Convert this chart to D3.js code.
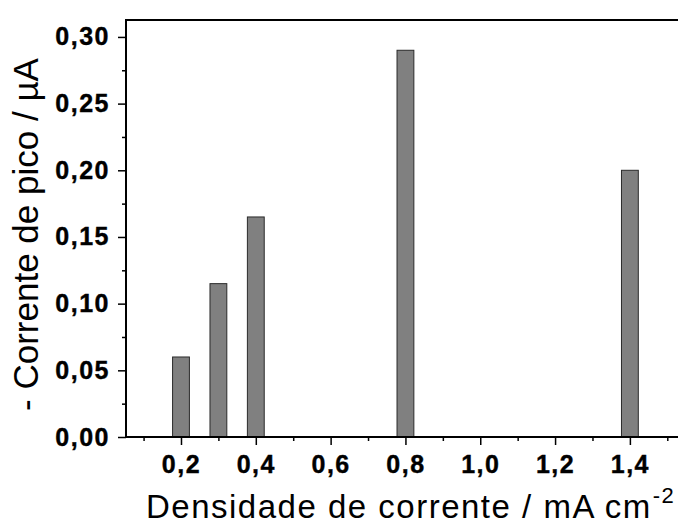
<!DOCTYPE html>
<html><head><meta charset="utf-8">
<script src="https://cdn.jsdelivr.net/npm/d3@7"></script>
<style>
html,body{margin:0;padding:0;background:#fff;}
svg{display:block;font-family:"Liberation Sans",Arial,sans-serif;}
</style></head>
<body>
<svg id="chart" width="678" height="524"></svg>
<script>
const categories = [0.2, 0.3, 0.4, 0.8, 1.4];
const peakCurrent = [0.06, 0.115, 0.165, 0.29, 0.20];
const xTicks = [0.2, 0.4, 0.6, 0.8, 1.0, 1.2, 1.4];
const xMinorTicks = [0.1, 0.3, 0.5, 0.7, 0.9, 1.1, 1.3, 1.5];
const yTicks = [0.00, 0.05, 0.10, 0.15, 0.20, 0.25, 0.30];
const yMinorTicks = [0.025, 0.075, 0.125, 0.175, 0.225, 0.275];
const xTitle = "Densidade de corrente / mA cm";
const yTitle = "- Corrente de pico / \u00B5A";

const svg = d3.select("#chart");
const mLeft = 126, mRight = 686, mTop = 20, mBottom = 437;
const x = d3.scaleLinear().domain([0.053, 1.55]).range([mLeft, mRight]);
const y = d3.scaleLinear().domain([0, 0.3127]).range([mBottom, mTop]);
const fmt = (d, p) => d.toFixed(p).replace(".", ",");
const barW = x(0.2 + 0.045) - x(0.2);

// bars
svg.append("g").selectAll("rect").data(categories).join("rect")
  .attr("x", (d) => x(d) - barW / 2)
  .attr("y", (d, i) => y(peakCurrent[i]))
  .attr("width", barW)
  .attr("height", (d, i) => y(0) - y(peakCurrent[i]))
  .attr("fill", "#808080").attr("stroke", "#2a2a2a").attr("stroke-width", 1);

// axes
const yAxis = svg.append("g").attr("transform", `translate(${mLeft},0)`)
  .call(d3.axisLeft(y).tickValues(yTicks).tickFormat(d => fmt(d, 2)).tickSize(8).tickPadding(8));
const yMinor = svg.append("g").attr("transform", `translate(${mLeft},0)`)
  .call(d3.axisLeft(y).tickValues(yMinorTicks).tickFormat("").tickSize(4));
const xAxis = svg.append("g").attr("transform", `translate(0,${mBottom})`)
  .call(d3.axisBottom(x).tickValues(xTicks).tickFormat(d => fmt(d, 1)).tickSize(8).tickPadding(10));
const xMinor = svg.append("g").attr("transform", `translate(0,${mBottom})`)
  .call(d3.axisBottom(x).tickValues(xMinorTicks).tickFormat("").tickSize(4));

[yAxis, yMinor, xAxis, xMinor].forEach(g => {
  g.select(".domain").remove();
  g.selectAll(".tick line").attr("stroke", "#000").attr("stroke-width", 1.5);
});
[yAxis, xAxis].forEach(g => {
  g.selectAll(".tick text").attr("font-size", 25).attr("font-weight", "bold")
    .attr("fill", "#000").attr("letter-spacing", "1.5px")
    .attr("stroke", "#000").attr("stroke-width", 0.4)
    .attr("font-family", '"Liberation Sans",Arial,sans-serif');
});

// frame lines (left, bottom, top)
svg.append("path")
  .attr("d", `M${mRight},${mTop}H${mLeft}V${mBottom}H${mRight}`)
  .attr("fill", "none").attr("stroke", "#000").attr("stroke-width", 2);

// titles
const xt = svg.append("text").attr("x", 146).attr("y", 518)
  .attr("font-size", 33).attr("fill", "#000").attr("letter-spacing", "1.5px");
xt.append("tspan").text(xTitle);
xt.append("tspan").attr("font-size", 22).attr("dy", -15).attr("dx", 1).text("-2");

svg.append("text")
  .attr("transform", `translate(38,${(57 + 412) / 2}) rotate(-90)`)
  .attr("text-anchor", "middle")
  .attr("font-size", 35).attr("fill", "#000")
  .text(yTitle);
</script>
</body></html>
